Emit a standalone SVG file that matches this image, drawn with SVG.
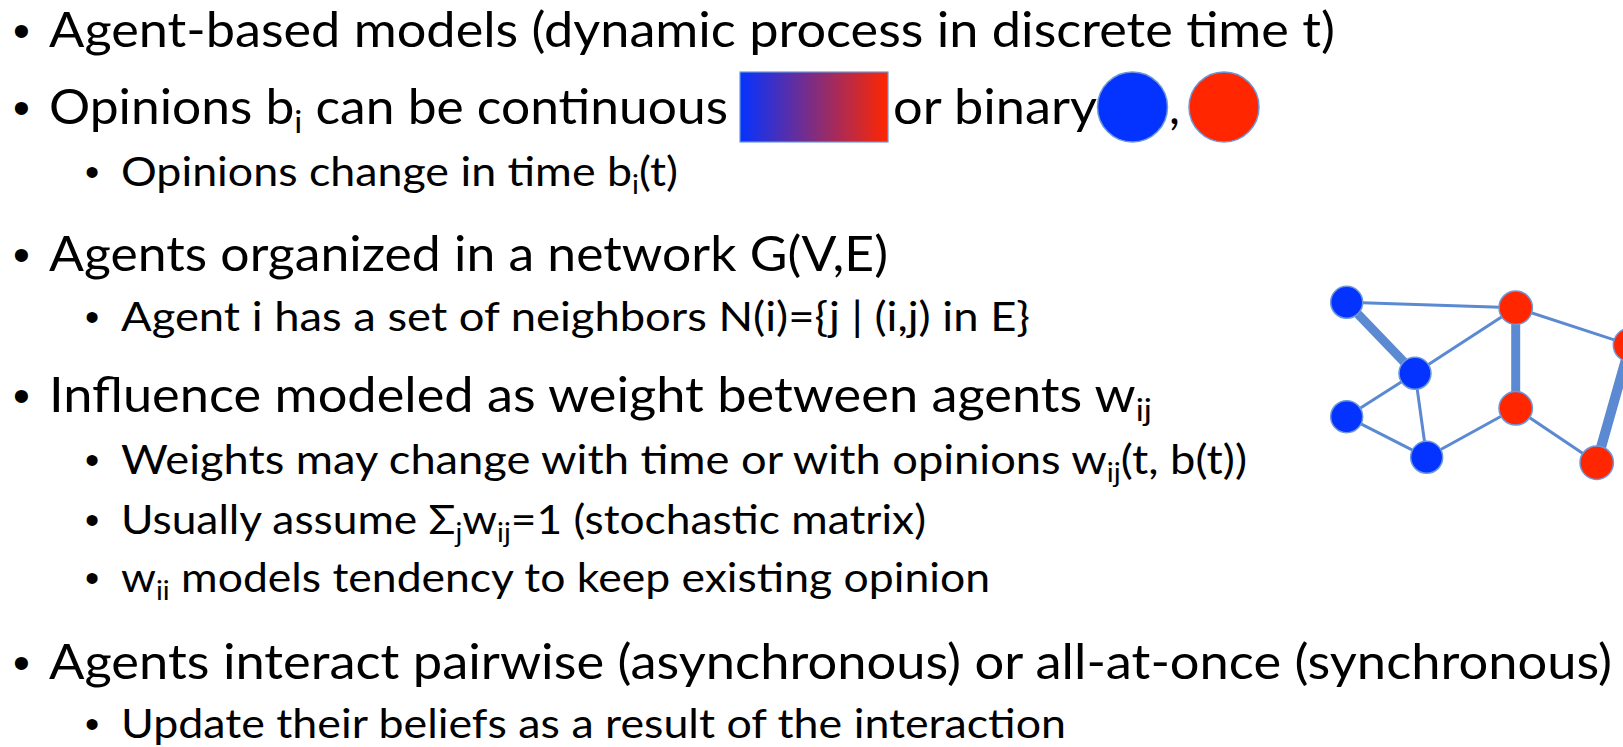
<svg xmlns="http://www.w3.org/2000/svg" width="1623" height="747" viewBox="0 0 1623 747">
  <defs>
    <linearGradient id="opinionScale" x1="0" y1="0" x2="1" y2="0">
      <stop offset="0" stop-color="#0433FF"/>
      <stop offset="1" stop-color="#FF2600"/>
    </linearGradient>
    <style>
      text { font-family: Lato, "Open Sans", "Liberation Sans", sans-serif; fill: #000; }
      .main { font-size: 48px; }
      .sub { font-size: 40.5px; }
      .bul { font-family: "Liberation Sans", Arial, sans-serif; }
      .s1 { font-size: 31px; }
      .s2 { font-size: 26px; }
      .edge { stroke: #5B8AD2; stroke-width: 3; stroke-linecap: round; fill: none; }
      .heavy { stroke-width: 9; }
      .agent { stroke: #6C98DA; stroke-width: 1.5; }
      .blue { fill: #0433FF; }
      .red { fill: #FF2600; }
    </style>
  </defs>
  <rect width="1623" height="747" fill="#fff"/>

  <!-- top-level bullet: agent-based models -->
  <g id="item-abm">
    <text class="main bul" x="13" y="47">•</text>
    <text class="main" x="49" y="47" textLength="1286" lengthAdjust="spacingAndGlyphs">Agent-based models (dynamic process in discrete time t)</text>
  </g>

  <!-- opinions: continuous scale or binary -->
  <g id="item-opinions">
    <text class="main bul" x="13" y="124">•</text>
    <text class="main" x="49" y="124" textLength="679" lengthAdjust="spacingAndGlyphs">Opinions b<tspan class="s1" dy="9">i</tspan><tspan dy="-9"> can be continuous</tspan></text>
    <rect x="740" y="72" width="148" height="70" fill="url(#opinionScale)" stroke="#6C98DA" stroke-width="1.2"/>
    <text class="main" x="893" y="124" textLength="204" lengthAdjust="spacingAndGlyphs">or binary</text>
    <text class="main" x="1169" y="124">,</text>
    <circle class="agent blue" cx="1132.5" cy="107" r="35"/>
    <circle class="agent red" cx="1224" cy="107" r="35"/>
  </g>
  <g id="item-opinions-time">
    <text class="sub bul" x="85" y="186">•</text>
    <text class="sub" x="121" y="186" textLength="557" lengthAdjust="spacingAndGlyphs">Opinions change in time b<tspan class="s2" dy="8">i</tspan><tspan dy="-8">(t)</tspan></text>
  </g>

  <!-- network -->
  <g id="item-network">
    <text class="main bul" x="13" y="271">•</text>
    <text class="main" x="49" y="271" textLength="839" lengthAdjust="spacingAndGlyphs">Agents organized in a network G(V,E)</text>
  </g>
  <g id="item-neighbors">
    <text class="sub bul" x="85" y="331">•</text>
    <text class="sub" x="121" y="331" textLength="909" lengthAdjust="spacingAndGlyphs">Agent i has a set of neighbors N(i)={j | (i,j) in E}</text>
  </g>

  <!-- influence weights -->
  <g id="item-influence">
    <text class="main bul" x="13" y="412">•</text>
    <text class="main" x="49" y="412" textLength="1103" lengthAdjust="spacingAndGlyphs">Influence modeled as weight between agents w<tspan class="s1" dy="9">ij</tspan></text>
  </g>
  <g id="item-weights-time">
    <text class="sub bul" x="85" y="474">•</text>
    <text class="sub" x="121" y="474" textLength="1126" lengthAdjust="spacingAndGlyphs">Weights may change with time or with opinions w<tspan class="s2" dy="8">ij</tspan><tspan dy="-8">(t, b(t))</tspan></text>
  </g>
  <g id="item-stochastic">
    <text class="sub bul" x="85" y="534">•</text>
    <text class="sub" x="121" y="534" textLength="805" lengthAdjust="spacingAndGlyphs">Usually assume Σ<tspan class="s2" dy="8">j</tspan><tspan dy="-8">w</tspan><tspan class="s2" dy="8">ij</tspan><tspan dy="-8">=1 (stochastic matrix)</tspan></text>
  </g>
  <g id="item-self-weight">
    <text class="sub bul" x="85" y="592">•</text>
    <text class="sub" x="121" y="592" textLength="869" lengthAdjust="spacingAndGlyphs">w<tspan class="s2" dy="8">ii</tspan><tspan dy="-8"> models tendency to keep existing opinion</tspan></text>
  </g>

  <!-- interaction -->
  <g id="item-interaction">
    <text class="main bul" x="13" y="679">•</text>
    <text class="main" x="49" y="679" textLength="1563" lengthAdjust="spacingAndGlyphs">Agents interact pairwise (asynchronous) or all-at-once (synchronous)</text>
  </g>
  <g id="item-update">
    <text class="sub bul" x="85" y="738">•</text>
    <text class="sub" x="121" y="738" textLength="945" lengthAdjust="spacingAndGlyphs">Update their beliefs as a result of the interaction</text>
  </g>

  <!-- example network: connectors -->
  <g id="connectors">
    <line class="edge" x1="1346.7" y1="302.3" x2="1515.7" y2="307.7"/>
    <line class="edge heavy" x1="1346.7" y1="302.3" x2="1415" y2="373.3"/>
    <line class="edge" x1="1415" y1="373.3" x2="1515.7" y2="307.7"/>
    <line class="edge" x1="1415" y1="373.3" x2="1346.7" y2="416.7"/>
    <line class="edge" x1="1415" y1="373.3" x2="1426.7" y2="457.3"/>
    <line class="edge" x1="1346.7" y1="416.7" x2="1426.7" y2="457.3"/>
    <line class="edge" x1="1426.7" y1="457.3" x2="1515.7" y2="408.3"/>
    <line class="edge heavy" x1="1515.7" y1="307.7" x2="1515.7" y2="408.3"/>
    <line class="edge" x1="1515.7" y1="307.7" x2="1630" y2="345"/>
    <line class="edge" x1="1515.7" y1="408.3" x2="1596.7" y2="462.7"/>
    <line class="edge heavy" x1="1596.7" y1="462.7" x2="1630" y2="345" style="stroke-width:10"/>
  </g>

  <!-- example network: agents -->
  <g id="agent-a"><circle class="agent blue" cx="1346.7" cy="302.3" r="16"/></g>
  <g id="agent-b"><circle class="agent blue" cx="1415" cy="373.3" r="16"/></g>
  <g id="agent-c"><circle class="agent blue" cx="1346.7" cy="416.7" r="16"/></g>
  <g id="agent-d"><circle class="agent blue" cx="1426.7" cy="457.3" r="16"/></g>
  <g id="agent-e"><circle class="agent red" cx="1515.7" cy="307.7" r="16.7"/></g>
  <g id="agent-f"><circle class="agent red" cx="1515.7" cy="408.3" r="16.7"/></g>
  <g id="agent-g"><circle class="agent red" cx="1596.7" cy="462.7" r="16.7"/></g>
  <g id="agent-h"><circle class="agent red" cx="1630" cy="345" r="16.7"/></g>
</svg>
